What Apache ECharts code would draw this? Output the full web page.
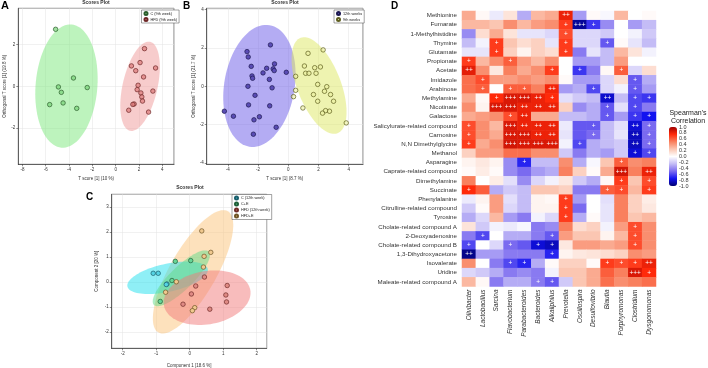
<!DOCTYPE html>
<html>
<head>
<meta charset="utf-8">
<script src="https://cdn.jsdelivr.net/npm/echarts@6/dist/echarts.min.js"></script>
<style>
  html, body { margin: 0; padding: 0; background: #fff; }
  #main { width: 708px; height: 368px; }
</style>
</head>
<body>
<div id="main"></div>
<script>
  // ---- panel A : OPLS-DA scores, 9th week ----
  const scoresA_C = [[-5.15,2.74],[-3.62,0.40],[-4.91,-0.03],[-4.66,-0.29],[-2.44,-0.06],[-4.51,-0.80],[-5.66,-0.88],[-3.34,-1.06]];
  const scoresA_HFD = [[2.47,1.81],[1.35,0.98],[2.09,1.14],[1.72,0.75],[3.42,0.88],[2.39,0.45],[1.92,0.05],[1.84,-0.16],
    [2.16,-0.32],[3.19,-0.23],[2.24,-0.51],[2.30,-0.71],[1.58,-0.85],[1.47,-0.87],[1.12,-1.15],[2.82,-1.24]];
  // ellipse: [cx, cy, ux, uy, vx, vy] in data units
  const ellipsesA = [[-4.22,0.01,0.43,2.96,2.64,-0.12],[2.09,0,0.86,2.14,1.46,-0.18]];

  // ---- panel B : 12th vs 9th weeks ----
  const scoresB_12 = [[-1.18,2.16],[-2.73,1.81],[-2.65,1.53],[-2.45,1.04],[-0.91,1.17],[-1.43,0.94],[-1.67,0.70],[-1.00,0.91],
    [-0.93,0.82],[-2.40,0.54],[-2.36,0.42],[-1.25,0.36],[-0.13,0.73],[-2.67,0.00],[-1.07,-0.08],[-2.20,-0.47],[-4.23,-1.30],
    [-3.63,-1.56],[-2.63,-0.97],[-1.23,-1.02],[-1.91,-1.59],[-2.27,-1.75],[-0.80,-2.14],[-2.31,-2.50]];
  const scoresB_9 = [[2.31,1.90],[1.31,1.72],[1.07,1.06],[1.75,0.97],[2.13,1.01],[1.15,0.68],[1.37,0.68],[1.84,0.68],
    [0.49,0.52],[1.95,0.10],[2.55,-0.02],[0.49,-0.21],[2.40,-0.26],[1.67,-0.43],[2.80,-0.43],[0.35,-0.54],[3.00,-0.78],
    [1.95,-0.78],[0.97,-1.13],[2.73,-1.30],[2.47,-1.27],[2.27,-1.40],[3.84,-1.91]];
  const ellipsesB = [[-1.91,0.02,0.67,3.17,2.30,-0.30],[2.04,0.04,1.22,-2.49,1.35,0.40]];

  // ---- panel C : PLS-DA, 4 groups ----
  const scoresC_C12 = [[-1.09,0.35],[-0.94,0.35],[-0.68,-0.08],[-0.70,-0.10]];
  const scoresC_CE = [[-0.43,0.83],[0.03,0.86],[-0.53,0.06],[-0.88,-0.78]];
  const scoresC_HFD12 = [[0.44,0.20],[0.18,-0.16],[0.05,-0.48],[-0.20,-0.89],[1.12,-0.14],[1.08,-0.52],[1.10,-0.80],[0.60,-1.09]];
  const scoresC_HFDE = [[0.36,2.05],[0.63,1.19],[0.43,1.03],[0.41,0.60],[-0.40,0.01],[-0.72,-0.41],[0.15,-1.03],[0.08,-1.15]];
  const ellipsesC = [[0.10,0.41,1.04,2.43,0.60,-0.47],[-0.66,0.17,1.20,0.35,0.09,-0.55],
    [-0.25,0.15,0.82,1.07,0.24,-0.33],[0.52,-0.63,1.29,0.31,0.14,-1.05]];

  // ---- panel D : Spearman correlation heatmap ----
  const genera = ['Olivibacter','Lactobacillus','Sarcina','Flavobacterium','Parabacteroides','Bacteroides','Alkaliphilus',
    'Prevotella','Oscillospira','Desulfovibrio','Blautia','Porphyromonas','Clostridium','Dysgonomonas'];
  const metabolites = ['Methionine','Fumarate','1-Methylhistidine','Thymine','Glutamate','Propionate','Acetate','Imidazole',
    'Arabinose','Methylamine','Nicotinate','Galactose','Salicylurate-related compound','Carnosine','N,N Dimethylglycine',
    'Methanol','Asparagine','Caprate-related compound','Dimethylamine','Succinate','Phenylalanine','Citrulline-related compound',
    'Tyrosine','Cholate-related compound A','2-Deoxyadenosine','Cholate-related compound B','1,3-Dihydroxyacetone',
    'Isovalerate','Uridine','Maleate-related compound A'];
  const rho = [
    [0.35,0.03,-0.08,0.12,-0.3,0.3,0.35,0.8,-0.35,0.02,-0.03,0.3,0,0.02],
    [0.3,0.3,0.25,0.45,0.3,0.4,0.45,0.7,-0.92,-0.65,-0.4,0,-0.35,-0.25],
    [-0.4,0.15,0.35,0.12,-0.1,-0.1,-0.15,0.65,-0.15,-0.15,-0.2,0,-0.05,-0.2],
    [-0.25,-0.05,0.7,0.25,0.15,0.2,-0.1,0.7,-0.15,-0.15,-0.55,0.02,-0.1,-0.25],
    [-0.1,-0.1,0.7,0.2,0.05,0.2,0.15,0.7,-0.45,-0.1,-0.25,0.3,0.12,-0.05],
    [0.7,0.3,0.45,0.6,0.4,0.3,0.45,0,-0.35,-0.35,-0.25,0.4,0,0],
    [0.82,0.45,0.1,0.5,0.35,0.45,0.7,0,-0.65,-0.45,0.03,0.6,-0.15,0.15],
    [0.55,0.65,0.4,0.4,0.45,0.4,0.45,0.02,-0.35,-0.35,-0.15,0.15,-0.55,-0.3],
    [0.55,0.6,0,0.6,0.6,0.5,0.78,-0.35,-0.3,-0.6,-0.15,-0.05,-0.55,-0.35],
    [0.35,0.03,0.75,0.85,0.85,0.8,0.75,-0.12,-0.2,-0.25,-0.82,-0.25,-0.6,-0.65],
    [0.45,0.05,0.85,0.85,0.8,0.8,0.8,0.2,-0.4,-0.3,-0.55,-0.12,-0.6,-0.45],
    [0.35,0.4,0.45,0.65,0.8,0.35,0.35,-0.25,-0.25,-0.3,-0.55,-0.35,-0.65,-0.75],
    [0.65,0.45,0.3,0.85,0.8,0.8,0.8,-0.08,-0.55,-0.55,-0.25,-0.12,-0.8,-0.5],
    [0.65,0.45,0.35,0.85,0.85,0.8,0.8,-0.1,-0.55,-0.5,-0.25,-0.1,-0.85,-0.5],
    [0.7,0.35,0.45,0.87,0.85,0.85,0.85,-0.05,-0.6,-0.3,-0.25,-0.2,-0.85,-0.5],
    [0.2,0.4,0.4,0.55,0.55,0.45,0.45,-0.2,-0.45,-0.3,-0.35,-0.2,-0.8,-0.6],
    [0.05,0.1,0.05,-0.4,-0.7,-0.25,-0.25,0.45,-0.3,-0.03,0.25,0.6,0.45,0.5],
    [0.02,0.08,0.02,-0.4,-0.5,-0.35,-0.3,0.5,0.2,0.02,0.35,0.87,0.5,0.8],
    [0.5,0,0.08,-0.12,-0.4,-0.15,-0.05,0.1,-0.2,-0.3,0.03,0.7,0.25,0.65],
    [0.75,0.6,-0.3,-0.2,-0.25,0.25,0.25,0.2,-0.45,-0.45,0.6,0.65,0.3,0.7],
    [-0.08,0.05,0.4,-0.12,-0.25,0.05,0.03,0.7,-0.35,0,-0.12,0.5,0.2,0.08],
    [-0.2,0.02,0.4,-0.15,-0.25,0.05,0.05,0.7,-0.5,0,-0.1,0.5,0.2,0.1],
    [-0.3,-0.15,0.3,-0.35,-0.45,-0.05,-0.15,0.7,-0.3,0.02,-0.1,0.5,0.25,0.3],
    [0.12,-0.2,-0.05,-0.08,-0.03,-0.45,-0.4,0.5,0.15,0.2,-0.05,0.4,0.65,0.45],
    [-0.45,-0.6,0,-0.3,-0.3,-0.45,-0.55,0.4,0.25,0.25,0.05,0.3,0.65,0.45],
    [-0.6,0,-0.15,-0.5,-0.55,-0.8,-0.85,0.1,0.4,0.4,0.35,0.4,0.65,0.45],
    [-0.95,-0.35,-0.35,-0.45,-0.45,-0.45,-0.7,0.05,0.1,0.12,0.15,0.2,0.45,0.4],
    [0.45,0,-0.45,-0.6,-0.7,-0.3,0.02,0.2,0.2,0.02,0.7,0.65,0.7,0.8],
    [-0.15,-0.2,-0.3,-0.45,-0.4,-0.45,-0.05,0.25,0.25,0.35,0.6,0.5,0.85,0.75],
    [0.3,0.03,-0.45,-0.3,-0.3,-0.45,-0.55,-0.2,0.25,0.35,0.55,0.45,0.5,0.55]
  ];
  // number of "+" per cell (significance), one string per metabolite row
  const sig = [
    '00000002000000','00000001310000','00000001000000','00100001001000','00100001000000',
    '10010000000000','20000010100100','01000000000010','01011020010010','00133210002011',
    '00332220001010','00012000001011','10032220010021','10033220010021','10033330100021',
    '00000000000011','00001000000100','00000000000302','00000000000101','10000000001101',
    '00000001000000','00000001000000','00000001000000','00000000000010','01000010000010',
    '10010110000010','20000010000000','00011000001112','00000000000031','00000110000000'
  ];
  const colorTicks = [-1, -0.8, -0.6, -0.4, -0.2, 0, 0.2, 0.4, 0.6, 0.8, 1];

  const heatData = [];
  rho.forEach((row, r) => row.forEach((v, c) => heatData.push([c, r, v])));

  const FONT = 'Liberation Sans, Arial, sans-serif';

  function ellipseItem(params, api) {
    const cx = api.value(0), cy = api.value(1);
    const ux = api.value(2), uy = api.value(3), vx = api.value(4), vy = api.value(5);
    const pts = [];
    for (let k = 0; k < 90; k++) {
      const t = k / 90 * Math.PI * 2;
      pts.push(api.coord([cx + ux * Math.cos(t) + vx * Math.sin(t), cy + uy * Math.cos(t) + vy * Math.sin(t)]));
    }
    return { type: 'polygon', shape: { points: pts }, style: { fill: api.visual('color'), opacity: 0.5 } };
  }

  function ellipses(grid, list, colors) {
    return {
      type: 'custom', xAxisIndex: grid, yAxisIndex: grid, renderItem: ellipseItem, silent: true, z: 1,
      data: list.map((e, i) => ({ value: e, itemStyle: { color: colors[i] } }))
    };
  }

  function scores(grid, name, data, fill, stroke) {
    return {
      type: 'scatter', name: name, xAxisIndex: grid, yAxisIndex: grid, data: data, symbolSize: 4.5, z: 3,
      itemStyle: { color: fill, borderColor: stroke, borderWidth: 0.7, opacity: 1 }
    };
  }

  function valAxis(grid, min, max, split, name, gap) {
    return {
      type: 'value', gridIndex: grid, min: min, max: max, splitNumber: split,
      name: name, nameLocation: 'middle', nameGap: gap,
      nameTextStyle: { fontSize: 4.5, color: '#333', fontFamily: FONT },
      axisLine: { show: true, onZero: false, lineStyle: { color: '#222', width: 0.6 } },
      axisTick: { show: true, length: 2, lineStyle: { color: '#222', width: 0.5 } },
      axisLabel: { fontSize: 4.5, color: '#333', margin: 3, fontFamily: FONT, showMinLabel: false, showMaxLabel: false },
      splitLine: { show: true, lineStyle: { color: '#e2e2e2', width: 0.5 } }
    };
  }

  function smallLegend(names, left, top) {
    return {
      data: names, left: left, top: top, orient: 'vertical', icon: 'circle',
      itemWidth: 3, itemHeight: 3, itemGap: 1, padding: [1, 2, 1, 2],
      borderColor: '#444', borderWidth: 0.5, backgroundColor: '#fff',
      textStyle: { fontSize: 3.8, color: '#222', fontFamily: FONT, padding: [0, 0, 0, -2] }
    };
  }

  const titleStyle = { fontSize: 5, fontWeight: 'bold', color: '#333', fontFamily: FONT };
  const letterStyle = (s) => ({ fontSize: s, fontWeight: 'bold', color: '#000', fontFamily: FONT });

  const option = {
    animation: false,
    backgroundColor: '#fff',
    textStyle: { fontFamily: FONT },
    title: [
      { text: 'A', left: 1, top: 0, padding: 0, textStyle: letterStyle(11) },
      { text: 'Scores Plot', left: 96, top: 0, padding: 0, textAlign: 'center', textStyle: titleStyle },
      { text: 'B', left: 183, top: 1, padding: 0, textStyle: letterStyle(10) },
      { text: 'Scores Plot', left: 285, top: 0, padding: 0, textAlign: 'center', textStyle: titleStyle },
      { text: 'C', left: 86, top: 192, padding: 0, textStyle: letterStyle(10) },
      { text: 'Scores Plot', left: 190, top: 185, padding: 0, textAlign: 'center', textStyle: titleStyle },
      { text: 'D', left: 391, top: 1, padding: 0, textStyle: letterStyle(10) },
      { text: "Spearman's\nCorrelation", left: 688, top: 109, padding: 0, textAlign: 'center',
        textStyle: { fontSize: 7, fontWeight: 'normal', color: '#222', lineHeight: 8, fontFamily: FONT } }
    ],
    legend: [
      smallLegend(['C (9th week)', 'HFD (9th week)'], 141.5, 10),
      smallLegend(['12th weeks', '9th weeks'], 334, 10),
      smallLegend(['C (12th week)', 'C+E', 'HFD (12th week)', 'HFD+E'], 232, 194.5)
    ],
    grid: [
      { left: 18.3, top: 8.3, width: 155.7, height: 156, show: true, borderColor: '#222', borderWidth: 0.6, outerBoundsMode: 'none' },
      { left: 206.7, top: 8.3, width: 156.3, height: 156, show: true, borderColor: '#222', borderWidth: 0.6, outerBoundsMode: 'none' },
      { left: 111.7, top: 194.3, width: 155, height: 154, show: true, borderColor: '#222', borderWidth: 0.6, outerBoundsMode: 'none' },
      { left: 462, top: 11, width: 194, height: 275.5, outerBoundsMode: 'none' },
      { left: 669, top: 127, width: 8, height: 59, outerBoundsMode: 'none' }
    ],
    xAxis: [
      valAxis(0, -8.35, 5, 7, 'T score [1] (10 %)', 12),
      valAxis(1, -5.4, 4.95, 5, 'T score [1] (8.7 %)', 12),
      valAxis(2, -2.33, 2.3, 5, 'Component 1 [18.6 %]', 15),
      {
        type: 'category', gridIndex: 3, data: genera, position: 'bottom',
        axisLine: { show: false }, axisTick: { show: false }, splitLine: { show: false },
        axisLabel: { interval: 0, rotate: 90, fontSize: 6.5, fontStyle: 'italic', color: '#333', margin: 3, fontFamily: FONT }
      },
      { type: 'value', gridIndex: 4, show: false, min: 0, max: 1 }
    ],
    yAxis: [
      valAxis(0, -3.75, 3.75, 4, 'Orthogonal T score [1] (19.8 %)', 11),
      valAxis(1, -4.07, 4.07, 4, 'Orthogonal T score [1] (21.7 %)', 9),
      valAxis(2, -2.66, 3.52, 6, 'Component 2 [20 %]', 12),
      {
        type: 'category', gridIndex: 3, data: metabolites, inverse: true,
        axisLine: { show: false }, axisTick: { show: false }, splitLine: { show: false },
        axisLabel: { interval: 0, fontSize: 6.2, color: '#333', margin: 5, fontFamily: FONT }
      },
      {
        type: 'value', gridIndex: 4, min: -1, max: 1, interval: 0.2, position: 'right',
        axisLine: { show: false }, splitLine: { show: false },
        axisTick: { show: true, inside: true, length: 2, lineStyle: { color: '#fff', width: 0.6 } },
        axisLabel: { fontSize: 5.5, color: '#333', margin: 2, fontFamily: FONT,
          customValues: colorTicks, formatter: (v) => v.toFixed(1) }
      }
    ],
    visualMap: {
      type: 'continuous', min: -1, max: 1, seriesIndex: 14, dimension: 2,
      orient: 'vertical', left: 669, top: 127, itemWidth: 8, itemHeight: 59, padding: 0,
      calculable: false, text: null, showLabel: false, hoverLink: false,
      inRange: { color: ['#000070', '#1212f0', '#7a6af0', '#c4bcf6', '#ffffff', '#fbc6b2', '#f9805e', '#ff2a0a', '#a00000'] }
    },
    series: [
      ellipses(0, ellipsesA, ['#7ce87c', '#f09a9a']),
      scores(0, 'C (9th week)', scoresA_C, 'rgba(120,210,120,0.7)', '#2d5e2d'),
      scores(0, 'HFD (9th week)', scoresA_HFD, 'rgba(220,120,120,0.7)', '#6e2626'),
      ellipses(1, ellipsesB, ['#6a5ae8', '#dde862']),
      scores(1, '12th weeks', scoresB_12, '#5a4cb4', '#1c1850'),
      scores(1, '9th weeks', scoresB_9, 'rgba(235,240,160,0.6)', '#5e5e1e'),
      ellipses(2, ellipsesC, ['#fbc47a', '#20e0ee', '#5fdc8a', '#f27a7a']),
      scores(2, 'C (12th week)', scoresC_C12, '#55d4e4', '#1b5f6c'),
      scores(2, 'C+E', scoresC_CE, '#66d496', '#1f5e38'),
      scores(2, 'HFD (12th week)', scoresC_HFD12, '#df8a84', '#6e2a26'),
      scores(2, 'HFD+E', scoresC_HFDE, '#f0c88e', '#6e5426'),
      { type: 'scatter', xAxisIndex: 4, yAxisIndex: 4, data: [], silent: true },
      { type: 'scatter', xAxisIndex: 4, yAxisIndex: 4, data: [], silent: true },
      { type: 'scatter', xAxisIndex: 4, yAxisIndex: 4, data: [], silent: true },
      {
        type: 'heatmap', xAxisIndex: 3, yAxisIndex: 3, data: heatData, silent: true,
        itemStyle: { borderWidth: 0 },
        label: {
          show: true, color: '#fff', fontSize: 6.5, fontFamily: FONT,
          formatter: (p) => '+'.repeat(+sig[p.data[1]][p.data[0]])
        }
      }
    ]
  };

  const chart = echarts.init(document.getElementById('main'), null, { renderer: 'canvas' });
  chart.setOption(option);
</script>
</body>
</html>
